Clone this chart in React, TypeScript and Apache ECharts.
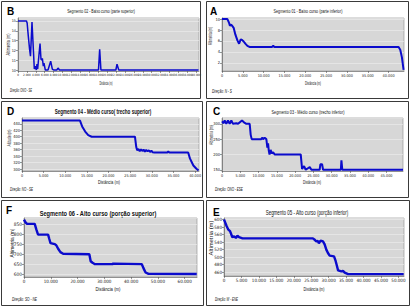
import React, { useEffect, useRef } from "react";
import * as echarts from "echarts";

// ---- Data (distance in m, altitude in m) ----
// Segmento 02 (B)
const seg02Dist = [0, 1900, 2050, 2300, 2600, 2800, 3140, 3660, 3890, 4110, 4260, 4410, 4940, 5160, 5300, 5460, 5680, 5830, 6130, 6730, 7330, 7700, 8000, 8700, 8980, 9300, 18050, 18320, 18600, 21950, 22210, 22600, 40500];
const seg02Alt = [15, 15, 14.8, 13.5, 12.1, 11.4, 14.9, 10.1, 10.4, 10.0, 10.6, 10.1, 12.7, 11.1, 11.0, 11.2, 10.4, 10.7, 10.0, 10.0, 10.9, 10.1, 10.0, 10.0, 10.2, 10.0, 10.0, 12.1, 10.0, 10.0, 10.6, 10.0, 10.0];
// Segmento 01 (A)
const seg01Dist = [0, 1300, 1700, 1900, 2200, 2500, 2800, 3200, 3700, 4100, 4500, 4800, 5200, 5600, 6100, 6600, 12000, 12300, 12600, 42400, 42800, 43200, 43600];
const seg01Alt = [10, 10, 9.3, 8.8, 9.0, 8.7, 8.4, 7.2, 6.1, 5.5, 6.3, 6.2, 5.9, 5.5, 5.1, 4.9, 4.9, 5.1, 4.9, 4.9, 4.4, 3.0, 0.7];
// Segmento 04 (D)
const seg04Dist = [0, 13400, 13900, 14600, 15300, 16100, 26100, 26400, 26600, 26900, 27200, 27500, 27800, 28100, 28400, 28700, 29000, 29300, 29600, 29900, 30200, 30600, 33500, 33800, 34100, 38400, 38800, 39200, 39600, 40300, 40800];
const seg04Alt = [450, 450, 432, 416, 405, 400, 400, 368, 358, 362, 355, 361, 356, 360, 354, 359, 355, 358, 353, 357, 352, 351, 351, 354, 351, 351, 333, 322, 311, 301, 296];
// Segmento 03 (C)
const seg03Dist = [0, 450, 730, 1180, 1640, 2100, 2550, 3000, 3900, 4400, 5460, 6000, 6660, 7570, 7850, 8120, 10770, 10950, 11220, 11680, 12130, 12400, 12600, 12800, 13000, 13300, 13600, 14000, 14400, 21530, 21900, 22440, 22900, 24000, 24450, 26700, 26900, 27370, 27640, 32500, 32660, 32900, 49500];
const seg03Alt = [308, 302, 311, 300, 311, 300, 311, 300, 302, 300, 311, 305, 300, 300, 264, 250, 250, 255, 250, 254, 250, 222, 236, 212, 200, 215, 203, 207, 200, 200, 153, 162, 150, 159, 150, 150, 168, 168, 150, 150, 181, 150, 150];
// Segmento 06 (F)
const seg06Dist = [0, 500, 1100, 4000, 4600, 5250, 9000, 9400, 9900, 11500, 12100, 12750, 13600, 14600, 24400, 24900, 25600, 26500, 33000, 33300, 44000, 44600, 45400, 46500, 64500];
const seg06Alt = [876, 863, 854, 854, 826, 800, 800, 780, 757, 752, 745, 728, 711, 703, 700, 665, 657, 650, 650, 653, 650, 630, 608, 601, 600];
// Segmento 05 (E)
const seg05Dist = [0, 300, 770, 1250, 1730, 2400, 2900, 3400, 3850, 4300, 5300, 25480, 25900, 26440, 26900, 27200, 27690, 28370, 28850, 29330, 29800, 30290, 31540, 32000, 32400, 32700, 33650, 34100, 34600, 35580, 51500];
const seg05Alt = [600, 593, 582, 573, 569, 553, 555, 551, 557, 553, 550, 550, 547, 542, 543, 537, 544, 542, 534, 520, 511, 504, 502, 490, 476, 465, 462, 464, 459, 455, 455];

const letters = ["B", "A", "D", "C", "F", "E"];
const titles = [
  "Segmento 02 - Baixo curso (parte superior)",
  "Segmento 01 - Baixo curso (parte inferior)",
  "Segmento 04 - Médio curso( trecho superior)",
  "Segmento 03 - Médio curso (trecho inferior)",
  "Segmento 06 - Alto curso (porção superior)",
  "Segmento 05 - Alto curso (porção inferior)",
];
const footers = ["Direção: ONO - SE", "Direção: N - S", "Direção: NO - SE", "Direção: ONO - ESE", "Direção: SO - NE", "Direção: W - ENE"];
const yNames = ["Altimetria (m)", "Altimetria (m)", "Altitude (m)", "Altimetria (m)", "Altimetria (m)", "Altimetria (m)"];
const xName = "Distância (m)";

// axis ranges
const xMaxes = [40600, 43700, 40900, 49500, 64600, 51600];
const xSteps = [2000, 5000, 5000, 5000, 10000, 5000];
const yMins = [9.9, 0.5, 294, 146, 585, 450];
const yMaxes = [15.3, 10.2, 458, 319, 884, 604];
const ySteps = [1, 2, 20, 50, 50, 20];

const series = [
  [seg02Dist, seg02Alt],
  [seg01Dist, seg01Alt],
  [seg04Dist, seg04Alt],
  [seg03Dist, seg03Alt],
  [seg06Dist, seg06Alt],
  [seg05Dist, seg05Alt],
];

// ---- Layout ----
const grids = [
  { left: 18, top: 18, width: 181, height: 53 },
  { left: 222, top: 18, width: 182, height: 53 },
  { left: 22, top: 118, width: 177, height: 53 },
  { left: 222, top: 118, width: 181, height: 53 },
  { left: 24, top: 218, width: 173, height: 59 },
  { left: 224, top: 218, width: 180, height: 58 },
];
const frames = [
  [1.5, 1.5, 199, 97],
  [206.5, 1.5, 202, 97],
  [1.5, 101.5, 201, 96],
  [206.5, 101.5, 202, 96],
  [1.5, 200.5, 202, 105],
  [206.5, 200.5, 203, 105],
];
// letter [x,y]
const letterPos = [[7, 11.5], [210, 11.5], [7, 111.5], [213, 111.5], [6, 210.5], [213, 212]];
// title [cx, cy, size, bold, width]
const titleLay = [
  [101, 11, 6, false, 68],
  [308, 11, 6, false, 69],
  [103, 112, 7, true, 97],
  [308, 112, 6, false, 73],
  [98, 213, 7.5, true, 117],
  [307, 213, 6.5, false, 83],
];
// x name [cx, cy, size, width]
const xNameLay = [[106, 84, 4.5, 13], [313, 84, 4.5, 16], [109, 182, 5, 22], [312, 183, 4.5, 18], [108, 289, 5.5, 25], [314, 289, 5.5, 21]];
// y name [cx, cy, size, width]
const yNameLay = [[8, 44.5, 4.5, 22], [211, 36, 4.5, 18], [9, 138, 4.5, 17], [211.5, 135, 4.5, 20], [12, 243, 5.5, 29], [211.5, 238, 5.5, 35]];
// footer [x, y, size, width]
const footLay = [[10, 91, 4.5, 22], [212, 91, 4.5, 20], [10, 190, 4.5, 23], [215, 190, 4.5, 28], [12, 299, 5, 25], [215, 299, 5, 23]];
const xLabelSizes = [3, 3.8, 3.8, 3.8, 4.5, 4.5];
const yLabelSizes = [3.8, 4, 4, 4, 4.8, 4.5];
const lineWidths = [1.5, 2, 2, 2, 2.4, 2.4];

const FAM = "'Liberation Sans', Arial, sans-serif";
const NARROW = "'Liberation Sans Narrow', 'DejaVu Sans Condensed', 'Liberation Sans', sans-serif";

let measureCtx: CanvasRenderingContext2D | null = null;
function measure(text: string, font: string): number {
  if (!measureCtx) measureCtx = document.createElement("canvas").getContext("2d");
  if (!measureCtx) return text.length * 3;
  measureCtx.font = font;
  return measureCtx.measureText(text).width || 1;
}

function fitText(
  text: string, x: number, y: number, size: number, weight: string, fstyle: string,
  target: number, align: string, rotation = 0
) {
  const font = `${fstyle} ${weight} ${size}px ${FAM}`;
  const sx = target / measure(text, font);
  return {
    type: "text",
    x, y, rotation, scaleX: sx, silent: true, z: 10,
    style: {
      text, fontSize: size, fontWeight: weight, fontStyle: fstyle, fontFamily: FAM,
      fill: "#111", align, verticalAlign: "middle", textAlign: align, textVerticalAlign: "middle",
    },
  };
}

function fmtDist(v: number) {
  if (v === 0) return "0";
  return (v / 1000).toFixed(3);
}

export default function App() {
  const ref = useRef<HTMLDivElement>(null);
  useEffect(() => {
    if (!ref.current) return;
    const chart = echarts.init(ref.current, undefined, { renderer: "svg" });
    const graphic: any[] = [];
    frames.forEach(([x, y, w, h]) => {
      graphic.push({ type: "rect", silent: true, z: 1, shape: { x, y, width: w, height: h }, style: { fill: "none", stroke: "#3a3a3a", lineWidth: 1 } });
    });
    letters.forEach((l, i) => {
      graphic.push({
        type: "text", x: letterPos[i][0], y: letterPos[i][1], silent: true, z: 10,
        style: { text: l, fontSize: 10, fontWeight: "bold", fontFamily: FAM, fill: "#000", align: "left", verticalAlign: "middle", textAlign: "left", textVerticalAlign: "middle" },
      });
    });
    titles.forEach((t, i) => {
      const [cx, cy, size, bold, w] = titleLay[i] as [number, number, number, boolean, number];
      graphic.push(fitText(t, cx, cy, size, bold ? "bold" : "normal", "normal", w, "center"));
    });
    xNameLay.forEach(([cx, cy, size, w]) => {
      graphic.push(fitText(xName, cx, cy, size, "normal", "normal", w, "center"));
    });
    yNameLay.forEach(([cx, cy, size, w], i) => {
      graphic.push(fitText(yNames[i], cx, cy, size, "normal", "normal", w, "center", Math.PI / 2));
    });
    footLay.forEach(([x, y, size, w], i) => {
      graphic.push(fitText(footers[i], x, y, size, "normal", "italic", w, "left"));
    });

    const axisLine = { show: true, lineStyle: { color: "#555", width: 0.6 } };
    const axisTick = { show: true, length: 2, lineStyle: { color: "#555", width: 0.6 } };

    const option: any = {
      animation: false,
      backgroundColor: "#ffffff",
      grid: grids.map((g) => ({ ...g, show: true, backgroundColor: "#d7d7d7", borderColor: "#8c8c8c", borderWidth: 0.6, containLabel: false })),
      xAxis: grids.map((_, i) => ({
        type: "value", gridIndex: i, min: 0, max: xMaxes[i],
        minInterval: xSteps[i], maxInterval: xSteps[i],
        axisLine, axisTick,
        splitLine: { show: false },
        axisLabel: { fontSize: xLabelSizes[i], fontFamily: NARROW, color: "#222", margin: 2, formatter: fmtDist, showMaxLabel: false },
      })),
      yAxis: grids.map((_, i) => ({
        type: "value", gridIndex: i, min: yMins[i], max: yMaxes[i],
        minInterval: ySteps[i], maxInterval: ySteps[i],
        axisLine, axisTick,
        splitLine: { show: true, lineStyle: { color: "#efefef", width: 0.6 } },
        axisLabel: { fontSize: yLabelSizes[i], fontFamily: NARROW, color: "#222", margin: 2, showMinLabel: false, showMaxLabel: false },
      })),
      series: series.map(([d, a], i) => ({
        type: "line", xAxisIndex: i, yAxisIndex: i, symbol: "none", showSymbol: false,
        lineStyle: { color: "#0b0bcc", width: lineWidths[i] },
        data: d.map((x, k) => [x, a[k]]),
        clip: true,
      })),
      graphic,
    };
    chart.setOption(option);
    return () => chart.dispose();
  }, []);
  return <div ref={ref} style={{ position: "absolute", left: 0, top: 0, width: 411, height: 308 }} />;
}
